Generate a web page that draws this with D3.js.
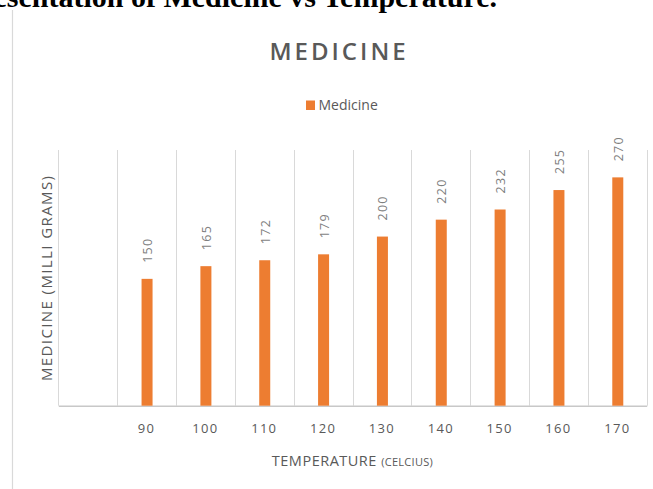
<!DOCTYPE html>
<html>
<head>
<meta charset="utf-8">
<script src="https://cdn.jsdelivr.net/npm/d3@7"></script>
<style>
  html, body { margin: 0; padding: 0; background: #ffffff; }
  svg { display: block; }
</style>
</head>
<body>
<script>
// Medicine dose (milligrams) recorded against temperature (Celsius).
// The first category slot is left empty, as in the original workbook chart.
const categories = ["", "90", "100", "110", "120", "130", "140", "150", "160", "170"];
const medicine   = [null, 150, 165, 172, 179, 200, 220, 232, 255, 270];
const seriesName = "Medicine";
const yDomain    = [0, 300];

const W = 653, H = 489;
const plot = { left: 58.3, right: 646.7, top: 150, bottom: 405.7 };

const svg = d3.select("body").append("svg")
  .attr("width", W).attr("height", H);

// Heading of the document section, running past the top of the page
svg.append("text")
  .attr("x", 497).attr("y", 6.5)
  .attr("text-anchor", "end")
  .attr("font-family", "'Liberation Serif', 'Times New Roman', serif")
  .attr("font-weight", "bold")
  .attr("font-size", 30)
  .attr("fill", "#000")
  .text("Graphical Representation of Medicine vs Temperature.");

// Left edge of the chart frame
svg.append("line")
  .attr("x1", 12.5).attr("x2", 12.5)
  .attr("y1", 10).attr("y2", H)
  .attr("stroke", "#d9d9d9").attr("stroke-width", 1.2);

const x = d3.scaleBand()
  .domain(categories)
  .range([plot.left, plot.right])
  .paddingInner(0).paddingOuter(0);

const y = d3.scaleLinear()
  .domain(yDomain)
  .range([plot.bottom, 152]);

const barW = 11;
const font = "'Open Sans', 'Noto Sans', sans-serif";
const textGrey = "#595959";

// Vertical gridlines at the category boundaries
const bounds = categories.map(c => x(c)).concat([x.range()[1]]);
svg.append("g")
  .selectAll("line")
  .data(bounds)
  .join("line")
  .attr("x1", d => Math.round(d) + 0.5).attr("x2", d => Math.round(d) + 0.5)
  .attr("y1", plot.top).attr("y2", plot.bottom)
  .attr("stroke", "#d9d9d9").attr("stroke-width", 1);

// Category axis
const xAxis = svg.append("g")
  .attr("transform", `translate(0,${plot.bottom})`)
  .call(d3.axisBottom(x).tickSize(0).tickPadding(0));
xAxis.select(".domain")
  .attr("stroke", "#c8c8c8").attr("stroke-width", 1.5);
xAxis.selectAll(".tick text")
  .attr("y", 27)
  .attr("dy", 0)
  .attr("font-family", font)
  .attr("font-size", 13)
  .attr("letter-spacing", "1.3px")
  .attr("fill", textGrey);

const data = categories
  .map((c, i) => ({ cat: c, value: medicine[i] }))
  .filter(d => d.value != null);

// Bars
svg.append("g")
  .selectAll("rect")
  .data(data)
  .join("rect")
  .attr("x", d => x(d.cat) + x.bandwidth() / 2 - barW / 2 + 0.5)
  .attr("width", barW)
  .attr("y", d => y(d.value))
  .attr("height", d => y(0) - y(d.value))
  .attr("fill", "#ED7D31");

// Value labels, rotated above each bar
svg.append("g")
  .selectAll("text")
  .data(data)
  .join("text")
  .attr("transform", d => {
    const cx = x(d.cat) + x.bandwidth() / 2 + 5.5;
    const cy = y(d.value) - 16;
    return `translate(${cx},${cy}) rotate(-90)`;
  })
  .attr("font-family", font)
  .attr("font-size", 12.5)
  .attr("letter-spacing", "1.3px")
  .attr("fill", "#7f7f7f")
  .text(d => d.value);

// Chart title
svg.append("text")
  .attr("x", 339).attr("y", 60)
  .attr("text-anchor", "middle")
  .attr("font-family", font)
  .attr("font-weight", 600)
  .attr("font-size", 24)
  .attr("letter-spacing", "3px")
  .attr("fill", textGrey)
  .text("MEDICINE");

// Legend
const legend = svg.append("g").attr("transform", "translate(306,100.5)");
legend.append("rect")
  .attr("width", 9).attr("height", 9.5)
  .attr("fill", "#ED7D31");
legend.append("text")
  .attr("x", 12.5).attr("y", 9.5)
  .attr("font-family", font)
  .attr("font-size", 14)
  .attr("fill", textGrey)
  .text(seriesName);

// Axis titles
const xTitle = svg.append("text")
  .attr("x", (plot.left + plot.right) / 2).attr("y", 466)
  .attr("text-anchor", "middle")
  .attr("font-family", font)
  .attr("fill", textGrey);
xTitle.append("tspan")
  .attr("font-size", 14.5)
  .attr("letter-spacing", "0.5px")
  .text("TEMPERATURE ");
xTitle.append("tspan")
  .attr("font-size", 11)
  .attr("letter-spacing", "0.3px")
  .text("(CELCIUS)");

svg.append("text")
  .attr("transform", `translate(52,${(plot.top + plot.bottom) / 2}) rotate(-90)`)
  .attr("text-anchor", "middle")
  .attr("font-family", font)
  .attr("font-size", 15)
  .attr("letter-spacing", "1.4px")
  .attr("fill", textGrey)
  .text("MEDICINE (MILLI GRAMS)");
</script>
</body>
</html>
